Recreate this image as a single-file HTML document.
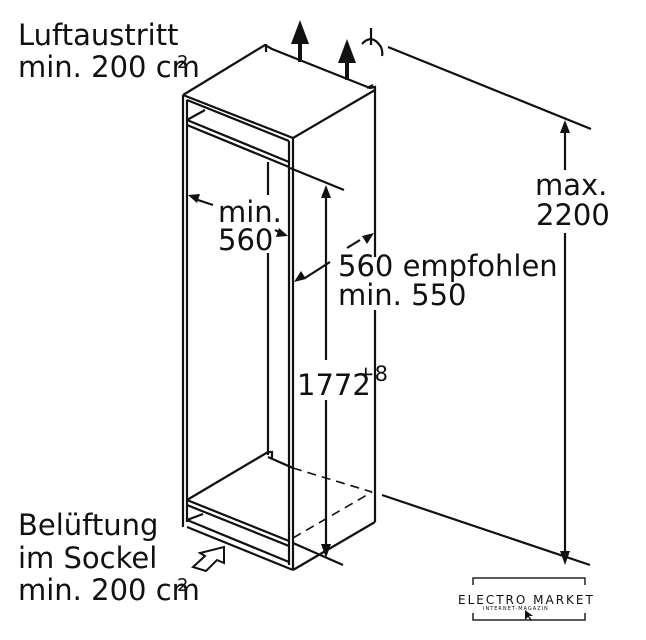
<!DOCTYPE html>
<html><head><meta charset="utf-8"><style>
html,body{margin:0;padding:0;background:#fff;}
svg{display:block;}
text{font-family:"DejaVu Sans","Liberation Sans",sans-serif;fill:#111;}
</style></head><body>
<svg width="646" height="640" viewBox="0 0 646 640" xmlns="http://www.w3.org/2000/svg">
<g stroke="#111" stroke-width="2.2" fill="none" stroke-linejoin="miter">
<polyline points="183,95 265,45 272,49 370,88 375,87 375,257"/>
<line x1="375" y1="310" x2="375" y2="522"/>
<line x1="183" y1="95" x2="293" y2="138"/>
<line x1="293" y1="138" x2="375" y2="90"/>
<polyline points="266,44 266,52"/>
<polyline points="367,88 373,85"/>
<line x1="183" y1="95" x2="183" y2="527"/>
<line x1="187" y1="100" x2="187" y2="522"/>
<line x1="293" y1="138" x2="293" y2="570"/>
<line x1="289" y1="141" x2="289" y2="565"/>
<line x1="187" y1="100" x2="289" y2="141"/>
<line x1="187" y1="120" x2="289" y2="162"/>
<line x1="187" y1="125" x2="289" y2="167"/>
<line x1="187" y1="120" x2="205" y2="110"/>
<line x1="268" y1="162" x2="268" y2="195"/>
<line x1="268" y1="253" x2="268" y2="455"/>
<line x1="187" y1="500" x2="268" y2="452"/>
<polyline points="268,452 272,452 272,458"/>
<line x1="268" y1="457" x2="293" y2="468"/>
<line x1="187" y1="500" x2="289" y2="541"/>
<line x1="187" y1="505" x2="289" y2="546"/>
<line x1="187" y1="527" x2="293" y2="570"/>
<line x1="187" y1="520" x2="289" y2="562"/>
<line x1="187" y1="520" x2="203" y2="514"/>
<line x1="293" y1="570" x2="375" y2="522"/>
<line x1="290" y1="168" x2="344" y2="190"/>
<line x1="326" y1="192" x2="326" y2="360"/>
<line x1="326" y1="400" x2="326" y2="545"/>
<line x1="293" y1="543" x2="343" y2="565"/>
<line x1="382" y1="495" x2="590" y2="565"/>
<line x1="388" y1="47" x2="591" y2="129"/>
<line x1="565" y1="132" x2="565" y2="170"/>
<line x1="565" y1="233" x2="565" y2="555"/>
<line x1="195" y1="199" x2="213" y2="205"/>
<line x1="275" y1="230" x2="283" y2="234"/>
<line x1="305" y1="278" x2="330" y2="262"/>
<line x1="347" y1="248" x2="360" y2="240"/>
<line x1="371" y1="28" x2="371" y2="45"/>
<path d="M362 44 Q372 33 381 47 Q383 52 382 56"/>
</g>
<g stroke="#111" stroke-width="1.6" fill="none" stroke-dasharray="9,6">
<line x1="293" y1="468" x2="372" y2="492"/>
<line x1="293" y1="538" x2="372" y2="492"/>
</g>
<g fill="#111">
<rect x="298" y="40" width="4" height="22"/>
<polygon points="300,20 291,44 309,44"/>
<rect x="345" y="59" width="4" height="21"/>
<polygon points="347,39 338,63 356,63"/>
<polygon points="326,185 321,198 331,198"/>
<polygon points="326,558 321,544 331,544"/>
<polygon points="565,120 560,133 570,133"/>
<polygon points="565,565 560,551 570,551"/>
<polygon points="188,195 200,194 197,203"/>
<polygon points="288,236 276,237 279,228"/>
<polygon points="294,282 301,271 306,279"/>
<polygon points="374,233 367,244 362,236"/>
</g>
<polygon points="193,567 205,556 200,553 224,547 224,563 217,560 206,571" fill="#fff" stroke="#111" stroke-width="2"/>
<g font-size="29">
<text x="18" y="45">Luftaustritt</text>
<text x="18" y="77">min. 200 cm</text>
<text x="177" y="68" font-size="18">2</text>
<text x="535" y="195">max.</text>
<text x="536" y="225">2200</text>
<text x="218" y="222">min.</text>
<text x="218" y="250">560</text>
<text x="338" y="276">560 empfohlen</text>
<text x="338" y="305">min. 550</text>
<text x="297" y="395">1772</text>
<text x="357" y="381" font-size="21">+8</text>
<text x="18" y="535">Belüftung</text>
<text x="18" y="568">im Sockel</text>
<text x="18" y="600">min. 200 cm</text>
<text x="177" y="591" font-size="18">2</text>
</g>
<g stroke="#222" stroke-width="1.5" fill="none">
<polyline points="473,585 473,578 585,578 585,585"/>
<polyline points="473,613 473,620 585,620 585,613"/>
</g>
<text x="458" y="604" font-size="12" letter-spacing="2">ELECTRO MARKET</text>
<text x="483" y="610" font-size="5" letter-spacing="1">INTERNET-MAGAZIN</text>
<polygon points="525,610 525,620 528,617 531,621 532,620 529,616 533,616" fill="#111"/>
</svg>
</body></html>
